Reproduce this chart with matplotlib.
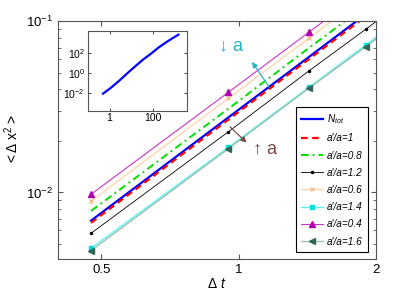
import numpy as np
import matplotlib
matplotlib.use("Agg")
import matplotlib.pyplot as plt
from matplotlib.ticker import FixedLocator, NullFormatter, NullLocator

plt.rcParams['font.family'] = ['Liberation Sans', 'DejaVu Sans']
plt.rcParams['mathtext.fontset'] = 'custom'
plt.rcParams['mathtext.rm'] = 'Liberation Sans'
plt.rcParams['mathtext.it'] = 'Liberation Sans:italic'

# lag times (main panel)
dt = [0.475, 0.95, 1.425, 1.9, 2.375]

# <dx^2> for each curve
n_tot = [0.00685, 0.0274, 0.0616, 0.1096, 0.171]
r_10 = [0.00665, 0.0266, 0.0598, 0.1064, 0.166]
r_08 = [0.0078, 0.0308, 0.0695, 0.123, 0.192]
r_12 = [0.00578, 0.0226, 0.0511, 0.0895, 0.140]
r_06 = [0.0089, 0.0354, 0.0793, 0.141, 0.220]
r_14 = [0.00473, 0.0183, 0.0410, 0.0725, 0.113]
r_04 = [0.00976, 0.0384, 0.0859, 0.152, 0.237]
r_16 = [0.00458, 0.0180, 0.0405, 0.0708, 0.110]

# inset: full range msd
ins_t = [0.5, 1.08, 2.6, 6.2, 15, 35.7, 87, 173, 350, 710, 1420]
ins_msd = [0.0087, 0.0305, 0.155, 0.91, 5.1, 25.9, 112, 387, 1150, 3150, 7900]

fig = plt.figure(figsize=(4.15, 2.95), dpi=100)
ax = fig.add_axes([0.1398, 0.122, 0.7663, 0.807])

ax.plot(dt, n_tot, color='#0000ff', lw=1.6, label=r'$N_{tot}$')
ax.plot(dt, r_10, color='#ff0000', lw=1.6, ls=(0, (3, 2)), label="a\u2032/a=1")
ax.plot(dt, r_08, color='#00e000', lw=1.4, ls=(0, (4, 2, 1, 2)), label="a\u2032/a=0.8")
ax.plot(dt, r_12, color='#000000', lw=0.6, marker='.', ms=3, label="a\u2032/a=1.2")
ax.plot(dt, r_06, color='#ffd3a8', lw=0.9, marker='x', ms=3.5, mec='#f5b27a', mew=0.8,
        label="a\u2032/a=0.6")
ax.plot(dt, r_14, color='#5ff5f5', lw=1.0, marker='s', ms=3, mfc='#00dede', mec='#00dede',
        label="a\u2032/a=1.4")
ax.plot(dt, r_04, color='#cc33cc', lw=0.8, marker='^', ms=4.5, mfc='#b000b0', mec='#b000b0',
        label="a\u2032/a=0.4")
ax.plot(dt, r_16, color='#9ebfae', lw=1.0, marker='<', ms=4.5, mfc='#2f6655', mec='#2f6655',
        label="a\u2032/a=1.6")

ax.set_xscale('log')
ax.set_yscale('log')
ax.set_xlim(0.402, 2.0)
ax.set_ylim(0.00409, 0.1)

ax.xaxis.set_major_locator(FixedLocator([0.5, 1, 2]))
ax.set_xticklabels(['0.5', '1', '2'])
ax.xaxis.set_minor_locator(NullLocator())
ax.yaxis.set_minor_formatter(NullFormatter())
ax.tick_params(which='both', direction='in', top=True, right=True, labelsize=9.5,
               color='#555555')
ax.tick_params(which='major', length=3.5)
ax.tick_params(which='minor', length=2)
for s in ax.spines.values():
    s.set_color('#555555')
    s.set_linewidth(0.8)

ax.set_xlabel(r'$\Delta\ t$', fontsize=10, labelpad=1)
ax.set_ylabel(r'$\mathrm{<\Delta\ x^2>}$', fontsize=10, labelpad=4)

leg = ax.legend(loc='upper right', bbox_to_anchor=(0.886, 0.636),
                bbox_transform=fig.transFigure, fontsize=7.2, frameon=True,
                fancybox=False, edgecolor='black', framealpha=1,
                handlelength=2.2, labelspacing=0.72, borderpad=0.5,
                handletextpad=0.4, borderaxespad=0)
leg.get_frame().set_linewidth(0.8)
for t in leg.get_texts()[1:]:
    t.set_fontstyle('italic')

# arrows showing trend with a
ax.annotate('', xy=(0.610, 0.828), xytext=(0.664, 0.723), xycoords='axes fraction',
            arrowprops=dict(arrowstyle='-|>', color='#25b5c5', lw=0.9, mutation_scale=8,
                            shrinkA=0, shrinkB=0))
ax.text(0.544, 0.895, '\u2193 a', transform=ax.transAxes, color='#25b5c5', fontsize=13,
        ha='center', va='center')
ax.annotate('', xy=(0.593, 0.489), xytext=(0.541, 0.555), xycoords='axes fraction',
            arrowprops=dict(arrowstyle='-|>', color='#7a4a4a', lw=0.9, mutation_scale=8,
                            shrinkA=0, shrinkB=0))
ax.text(0.651, 0.462, '\u2191 a', transform=ax.transAxes, color='#7a4a4a', fontsize=13,
        ha='center', va='center')

# inset
axi = fig.add_axes([0.2113, 0.6247, 0.2393, 0.2693])
axi.plot(ins_t, ins_msd, color='#0000ff', lw=1.6)
axi.set_xscale('log')
axi.set_yscale('log')
axi.set_xlim(0.1, 3500)
axi.set_ylim(10**-3.78, 10**4.24)
axi.xaxis.set_major_locator(FixedLocator([1, 100]))
axi.set_xticklabels(['1', '100'])
axi.xaxis.set_minor_locator(NullLocator())
axi.yaxis.set_major_locator(FixedLocator([1e-2, 1, 1e2]))
axi.set_yticklabels([r'$10^{-2}$', r'$10^{0}$', r'$10^{2}$'])
axi.yaxis.set_minor_locator(NullLocator())
axi.tick_params(direction='in', top=True, right=True, labelsize=7.5, length=2,
                color='#555555', pad=2)
for s in axi.spines.values():
    s.set_color('#555555')
    s.set_linewidth(0.8)

fig.savefig('out.png', dpi=100)
